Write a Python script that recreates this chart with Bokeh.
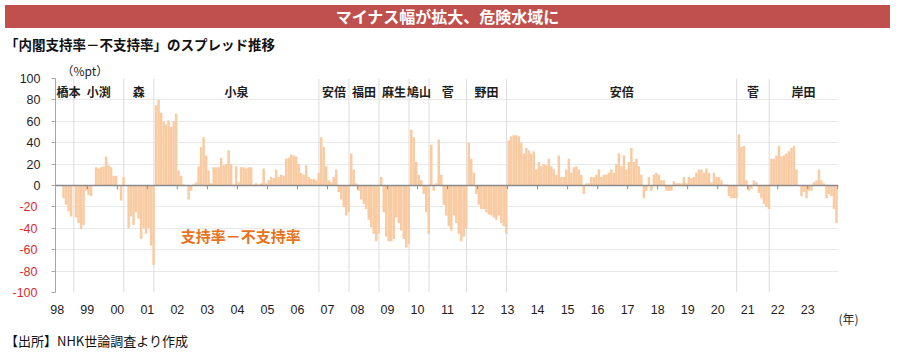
from bokeh.plotting import figure
from bokeh.models import Range1d, FixedTicker, Span, Div, LinearAxis, Title
from bokeh.layouts import column
from bokeh.core.properties import value
from bokeh.embed import file_html
from bokeh.resources import INLINE

nan = float("nan")

# ---- data: monthly spread (approval - disapproval), %pt, Jan 1998 .. Dec 2023 ----
Y1998 = [nan, nan, -12, -18, -24, -29, nan, -30, -35, -41, -37, -5]
Y1999 = [-9, -10, nan, 17, 16, 17, 18, 27, 19, 17, 9, 9]
Y2000 = [nan, -14, 8, nan, -40, -29, -37, -25, -31, -50, -40, -45]
Y2001 = [-40, -56, -74, 75, 80, 68, 60, 57, 61, 55, 60, 67]
Y2002 = [14, 9, 1, 0, -13, -5, 1, 3, 18, 36, 45, 28]
Y2003 = [14, 2, 17, 17, 17, 26, 19, 20, 33, 20, 1, 18]
Y2004 = [3, 17, 17, 16, 17, 17, 1, 2, 1, 2, 16, 2]
Y2005 = [5, 8, 7, 15, 8, 10, 9, 25, 26, 29, 28, 27]
Y2006 = [20, 12, 10, 19, 8, 6, 6, 5, 12, 45, 36, 18]
Y2007 = [5, 3, 8, 15, -6, -13, -20, -28, -25, 30, 15, 2]
Y2008 = [-5, -13, -17, -22, -32, -39, -45, -52, -45, 8, -25, -48]
Y2009 = [-52, -52, -50, -30, -35, -42, -50, -58, -55, 52, 45, 22]
Y2010 = [10, 5, -8, -25, -45, 38, -5, 2, 43, 10, -18, -28]
Y2011 = [-38, -42, -28, -35, -45, -52, -48, -40, 40, 25, 12, -8]
Y2012 = [-18, -22, -22, -25, -27, -28, -30, -32, -28, -35, -38, -45]
Y2013 = [42, 46, 47, 47, 46, 40, 30, 35, 33, 30, 32, 15]
Y2014 = [22, 18, 20, 19, 25, 18, 15, 10, 28, 8, 8, 15]
Y2015 = [25, 12, 17, 18, 15, 10, -8, 2, 2, 8, 8, 10]
Y2016 = [15, 8, 10, 10, 12, 15, 12, 20, 30, 18, 28, 15]
Y2017 = [22, 35, 22, 25, 18, 10, -12, -5, 8, -5, 10, 12]
Y2018 = [10, 5, 5, -5, -5, -5, 4, 2, 2, 2, 8, 2]
Y2019 = [8, 7, 8, 12, 15, 15, 12, 16, 12, 3, 12, 8]
Y2020 = [8, 5, 1, 1, -10, -12, -12, -12, 48, 36, 37, 5]
Y2021 = [-5, -3, 5, 3, -7, -12, -17, -20, -22, 25, 25, 28]
Y2022 = [37, 27, 28, 30, 32, 35, 37, 15, 0, -10, -6, -12]
Y2023 = [-5, -5, 3, 5, 15, 5, 2, -12, -8, -10, -22, -35]

YEAR_LABELS = ["98", "99", "00", "01", "02", "03", "04", "05", "06", "07", "08", "09",
               "10", "11", "12", "13", "14", "15", "16", "17", "18", "19", "20", "21",
               "22", "23"]

PM_NAMES = ["橋本", "小渕", "森", "小泉", "安倍", "福田", "麻生", "鳩山", "菅", "野田",
            "安倍", "菅", "岸田"]
PM_START = ["1998-01", "1998-08", "2000-04", "2001-04", "2006-10", "2007-10", "2008-10",
            "2009-10", "2010-06", "2011-09", "2013-01", "2020-09", "2021-10"]

Y_TICKS = [-100, -80, -60, -40, -20, 0, 20, 40, 60, 80, 100]

TITLE = "マイナス幅が拡大、危険水域に"
SUBTITLE = "「内閣支持率－不支持率」のスプレッド推移"
SOURCE = "【出所】NHK世論調査より作成"
SERIES_NAME = "支持率－不支持率"
Y_UNIT = "（%pt）"
X_UNIT = "(年)"

# ---- derived ----
spread = (Y1998 + Y1999 + Y2000 + Y2001 + Y2002 + Y2003 + Y2004 + Y2005 + Y2006 +
          Y2007 + Y2008 + Y2009 + Y2010 + Y2011 + Y2012 + Y2013 + Y2014 + Y2015 +
          Y2016 + Y2017 + Y2018 + Y2019 + Y2020 + Y2021 + Y2022 + Y2023)
n = len(spread)
xs = [i + 0.5 for i in range(n)]

def month_index(s):
    y, m = s.split("-")
    return (int(y) - 1998) * 12 + int(m) - 1

X0, X1 = -0.72, n + 0.3
starts = [month_index(s) for s in PM_START]
seps = [s - 0.4 for s in starts[1:]]
bounds = [X0] + seps + [n]
mids = [(bounds[i] + bounds[i + 1]) / 2 for i in range(len(PM_NAMES))]
mids[0] = max(mids[0], X0 + 5.2)   # keep first name inside the frame
year_ticks = [12 * j for j in range(len(YEAR_LABELS))]

BAR = "#F9CBA2"
JP = "Noto Sans CJK JP"
NUM = "Liberation Sans"
RED = "#DC2C2C"
DARK = "#1E1E1E"
NUM_SIZE = "12.5px"

W = 900
p = figure(width=W, height=273, x_range=Range1d(X0, X1), y_range=Range1d(-100, 100),
           output_backend="svg", toolbar_location=None,
           min_border_left=55, min_border_right=62, min_border_top=20, min_border_bottom=39)
p.outline_line_color = None
p.xgrid.visible = False
p.ygrid.ticker = FixedTicker(ticks=[t for t in Y_TICKS if t != 0])
p.ygrid.grid_line_color = "#E9E9E9"

# separators between cabinets
p.segment(x0=seps, y0=[-100] * len(seps), x1=seps, y1=[100] * len(seps),
          line_color="#DCDCDC", line_width=1)

# bars
p.vbar(x=xs, top=spread, bottom=0, width=1.0, fill_color=BAR, line_color=None)

# zero line and year ticks
p.add_layout(Span(location=0, dimension="width", line_color="#8A8A8A", line_width=1.5))
tick_x = year_ticks[1:] + [n]
p.segment(x0=tick_x, y0=[0] * len(tick_x), x1=tick_x, y1=[-3.5] * len(tick_x),
          line_color="#8A8A8A", line_width=1)

# prime minister names
p.text(x=mids, y=[88] * len(mids), text=PM_NAMES, text_font=value(JP),
       text_font_style="bold", text_font_size="12px", text_align="center",
       text_baseline="middle", text_color=DARK)

# series annotation
p.text(x=[73.3], y=[-46.5], text=[SERIES_NAME], text_font=value(JP), text_font_style="bold",
       text_font_size="15px", text_align="center", text_baseline="middle",
       text_color="#E8731C")

# inner y axis: line, ticks and the non-negative labels (black)
ya = p.yaxis[0]
ya.ticker = FixedTicker(ticks=Y_TICKS)
ya.major_label_overrides = {t: ("" if t < 0 else str(t)) for t in Y_TICKS}
ya.axis_line_color = "#A6A6A6"
ya.major_tick_line_color = "#A6A6A6"
ya.major_tick_out = 4
ya.major_tick_in = 0
ya.minor_tick_line_color = None
ya.major_label_standoff = 11
ya.major_label_text_font = NUM
ya.major_label_text_font_size = NUM_SIZE
ya.major_label_text_color = DARK

# outer y axis: only the negative labels (red), pulled into the same column
neg_axis = LinearAxis(ticker=FixedTicker(ticks=Y_TICKS),
                      major_label_overrides={t: (str(t) if t < 0 else "") for t in Y_TICKS},
                      axis_line_color=None, major_tick_line_color=None,
                      minor_tick_line_color=None, major_tick_out=0, major_tick_in=0,
                      major_label_standoff=-21, major_label_text_font=NUM,
                      major_label_text_font_size=NUM_SIZE, major_label_text_color=RED)
p.add_layout(neg_axis, "left")

p.xaxis.ticker = FixedTicker(ticks=year_ticks)
p.xaxis.major_label_overrides = {t: lab for t, lab in zip(year_ticks, YEAR_LABELS)}
p.xaxis.axis_line_color = None
p.xaxis.major_tick_line_color = None
p.xaxis.minor_tick_line_color = None
p.xaxis.major_tick_out = 0
p.xaxis.major_label_standoff = 12
p.xaxis.major_label_text_font = NUM
p.xaxis.major_label_text_font_size = NUM_SIZE
p.xaxis.major_label_text_color = DARK

# unit captions as side titles
p.add_layout(Title(text=Y_UNIT, align="left", offset=6, standoff=0, text_font=JP,
                   text_font_size="12px", text_font_style="normal", text_color=DARK), "above")
p.add_layout(Title(text=X_UNIT, align="right", offset=-20, standoff=-14, vertical_align="top",
                   text_font=JP, text_font_size="12px", text_font_style="normal",
                   text_color=DARK), "below")

title_div = Div(text=(f'<div style="margin-left:5px;margin-top:5px;width:885px;height:23px;'
                      f'background:#C0504D;color:#FFFFFF;font-family:\'{JP}\';font-weight:bold;'
                      f'font-size:16px;text-align:center;line-height:23px;">{TITLE}</div>'),
                width=W, height=31, margin=0)
sub_div = Div(text=(f'<div style="margin-left:5px;height:27px;color:#111;font-family:\'{JP}\';'
                    f'font-weight:bold;font-size:13.5px;line-height:27px;">{SUBTITLE}</div>'),
              width=W, height=27, margin=0)
src_div = Div(text=(f'<div style="margin-left:5px;height:20px;color:#111;font-family:\'{JP}\';'
                    f'font-size:13px;line-height:20px;">{SOURCE}</div>'),
              width=W, height=20, margin=0)

layout = column(title_div, sub_div, p, src_div, spacing=0, margin=0)

open("out.html", "w").write(file_html(layout, INLINE))
